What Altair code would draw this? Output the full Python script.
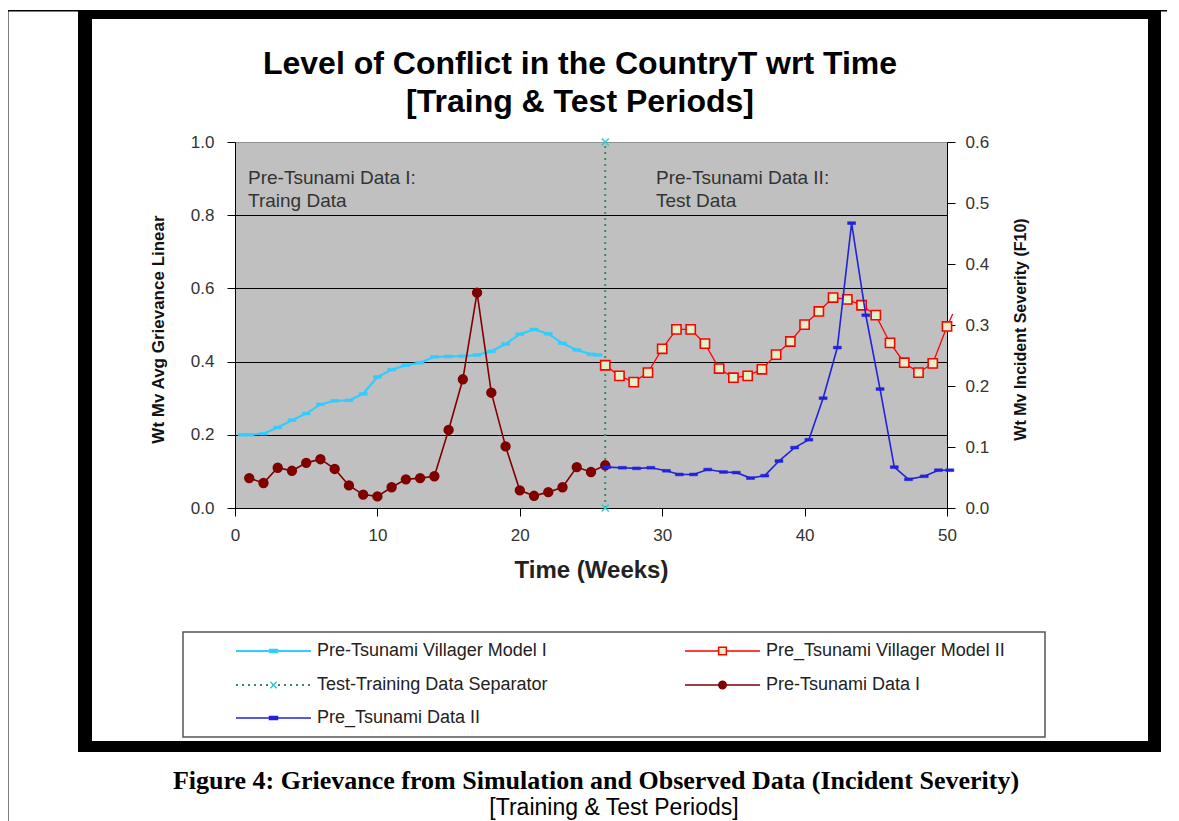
import altair as alt
import pandas as pd

# ---------------- data ----------------
model1_weeks = [0.5, 1, 2, 3, 4, 5, 6, 7, 8, 9, 10, 11, 12, 13, 14, 15, 16, 17,
                18, 19, 20, 21, 22, 23, 24, 25, 25.5]
model1_vals = [0.200, 0.200, 0.203, 0.220, 0.240, 0.258, 0.283, 0.293, 0.294,
               0.312, 0.358, 0.378, 0.390, 0.397, 0.413, 0.414, 0.415, 0.418,
               0.428, 0.448, 0.475, 0.488, 0.476, 0.450, 0.432, 0.420, 0.418]

model2_weeks = [26, 27, 28, 29, 30, 31, 32, 33, 34, 35, 36, 37, 38, 39, 40,
                41, 42, 43, 44, 45, 46, 47, 48, 49, 50, 50.4]
model2_vals = [0.390, 0.361, 0.344, 0.370, 0.435, 0.488, 0.488, 0.449, 0.381,
               0.356, 0.361, 0.379, 0.419, 0.455, 0.501, 0.537, 0.575, 0.570,
               0.554, 0.527, 0.451, 0.397, 0.370, 0.395, 0.496, 0.530]

data1_weeks = list(range(1, 27))
data1_vals = [0.049, 0.041, 0.066, 0.061, 0.074, 0.080, 0.064, 0.037, 0.022,
              0.019, 0.034, 0.047, 0.049, 0.052, 0.128, 0.211, 0.353, 0.189,
              0.101, 0.029, 0.020, 0.026, 0.034, 0.067, 0.059, 0.070]

data2_weeks = [26.1, 27.2, 28.2, 29.2, 30.3, 31.2, 32.2, 33.2, 34.3, 35.2, 36.2,
               37.2, 38.2, 39.3, 40.3, 41.3, 42.3, 43.3, 44.3, 45.3, 46.3, 47.3,
               48.4, 49.4, 50.2]
data2_vals = [0.067, 0.066, 0.065, 0.066, 0.061, 0.055, 0.055, 0.063, 0.059,
              0.058, 0.049, 0.053, 0.077, 0.099, 0.112, 0.180, 0.263, 0.467,
              0.316, 0.195, 0.067, 0.047, 0.052, 0.062, 0.062]

sep_weeks = [26, 26]
sep_vals = [0.0, 1.0]

x_ticks = [0, 10, 20, 30, 40, 50]
left_ticks = [0.0, 0.2, 0.4, 0.6, 0.8, 1.0]
right_ticks = [0.0, 0.1, 0.2, 0.3, 0.4, 0.5, 0.6]

series_names = ["Pre-Tsunami Villager Model I", "Pre_Tsunami Villager Model II",
                "Test-Training Data Separator", "Pre-Tsunami Data I",
                "Pre_Tsunami Data II"]

title_lines = ["Level of Conflict in the CountryT wrt Time", "[Traing & Test Periods]"]
annot_left = ["Pre-Tsunami Data I:", "Traing Data"]
annot_right = ["Pre-Tsunami Data II:", "Test Data"]
caption_main = "Figure 4: Grievance from Simulation and Observed Data (Incident Severity)"
caption_sub = "[Training & Test Periods]"
x_title = "Time (Weeks)"
yl_title = "Wt Mv Avg Grievance Linear"
yr_title = "Wt Mv Incident Severity (F10)"

# ---------------- layout (page pixels) ----------------
OX, OY = 235, 142          # plot origin on the page
PW, PH = 712, 366          # plot area size
SANS = "Liberation Sans"
SERIF = "Liberation Serif"

def px(v):
    return v - OX

def py(v):
    return v - OY

C_M1 = "#33CCFF"
C_M2 = "#FF0000"
C_M2_FILL = "#E4F1C7"
C_D1 = "#800000"
C_D2 = "#2222DD"
C_SEP = "#3A8A6A"
C_SEPX = "#33CCCC"
DASH = "M-1,-0.35H1V0.35H-1Z"
XMARK = "M-1,-1L1,1M-1,1L1,-1"

one = alt.InlineData(values=[{"k": 0}])


def df(w, v):
    return pd.DataFrame({"week": w, "val": v})


X = alt.X("week:Q",
          scale=alt.Scale(domain=[0, 50], nice=False, zero=False),
          axis=alt.Axis(values=x_ticks, format="d", title=x_title, grid=False,
                        tickSize=8, labelPadding=11, labelFlush=False,
                        domainColor="black", tickColor="black", labelFont=SANS,
                        labelFontSize=17, labelColor="#333333", titleFont=SANS,
                        titleFontSize=24, titleFontWeight="bold",
                        titleColor="#222222", titleX=PW / 2, titleY=62,
                        titleAlign="center", titleBaseline="middle"))

YL = alt.Y("val:Q",
           scale=alt.Scale(domain=[0, 1], nice=False, zero=True),
           axis=alt.Axis(orient="left", values=left_ticks, format=".1f",
                         grid=True, labelFlush=False,
                         gridColor={"condition": {"test": "datum.value > 0.99",
                                                  "value": "#909090"},
                                    "value": "#000000"},
                         gridWidth=1.2, tickSize=8, labelPadding=13,
                         domainColor="black", tickColor="black",
                         labelFont=SANS, labelFontSize=17, labelColor="#333333",
                         title=yl_title, titleFont=SANS, titleFontSize=17,
                         titleFontWeight="bold", titleColor="#111111",
                         titleAngle=270, titleX=158 - OX, titleY=PH / 2 + 4,
                         titleAlign="center", titleBaseline="middle"))

YR = alt.Y("val:Q",
           scale=alt.Scale(domain=[0, 0.6], nice=False, zero=True),
           axis=alt.Axis(orient="right", values=right_ticks, format=".1f",
                         grid=False, tickSize=8, labelPadding=10, labelFlush=False,
                         domainColor="black", tickColor="black",
                         labelFont=SANS, labelFontSize=17, labelColor="#333333",
                         title=yr_title, titleFont=SANS, titleFontSize=16,
                         titleFontWeight="bold", titleColor="#111111",
                         titleAngle=270, titleX=1020 - (OX + PW), titleY=PH / 2 + 4,
                         titleAlign="center", titleBaseline="middle"))

# ---------------- decorations ----------------
deco = []


def band(x1, x2, y1, y2, color="black"):
    deco.append(alt.Chart(one).mark_rect(color=color).encode(
        x=alt.value(px(x1)), x2=alt.value(px(x2)),
        y=alt.value(py(y1)), y2=alt.value(py(y2))))


# outer thin box lines
band(7, 8.5, 10, 830)
band(1169.5, 1171, 10, 830)
band(7, 1171, 10, 11.5)
# thick black frame
band(78, 1161, 10, 19)
band(78, 1161, 741, 752)
band(78, 92, 10, 752)
band(1148, 1161, 10, 752)


def text(t, x, y, size, weight="normal", font=SANS, align="left", color="#222222"):
    deco.append(alt.Chart(one).mark_text(
        text=t, font=font, fontSize=size, fontWeight=weight, align=align,
        baseline="middle", color=color).encode(
        x=alt.value(px(x)), y=alt.value(py(y))))


text(title_lines[0], 580, 64, 32, "bold", align="center", color="#000000")
text(title_lines[1], 580, 102, 32, "bold", align="center", color="#000000")
text(annot_left[0], 248, 178, 19, color="#333333")
text(annot_left[1], 248, 201, 19, color="#333333")
text(annot_right[0], 656, 178, 19, color="#333333")
text(annot_right[1], 656, 201, 19, color="#333333")
text(caption_main, 596, 781, 26, "bold", font=SERIF, align="center", color="#000000")
text(caption_sub, 614, 808, 23, align="center", color="#000000")

# legend box
deco.append(alt.Chart(one).mark_rect(fill="white", stroke="#555555", strokeWidth=1.5).encode(
    x=alt.value(px(183)), x2=alt.value(px(1045)),
    y=alt.value(py(632)), y2=alt.value(py(737))))

legend_style = [
    # color, dash, shape, fill, stroke, size, line width
    (C_M1, [1, 0], DASH, C_M1, C_M1, 64, 2),
    (C_M2, [1, 0], "square", C_M2_FILL, C_M2, 60, 1.3),
    (C_SEP, [2, 4], XMARK, None, C_SEPX, 40, 2),
    (C_D1, [1, 0], "circle", C_D1, C_D1, 55, 1.5),
    (C_D2, [1, 0], DASH, C_D2, C_D2, 64, 1.5),
]
legend_cell = [(0, 0), (1, 0), (0, 1), (1, 1), (0, 2)]
col_x = [236, 685]
row_y = [651, 685, 718]
SYM = 75
for name, (col, row), (c, dash, shp, fil, strk, sz, lw) in zip(series_names, legend_cell, legend_style):
    x0 = col_x[col]
    yy = row_y[row]
    deco.append(alt.Chart(one).mark_rule(color=c, strokeWidth=lw, strokeDash=dash).encode(
        x=alt.value(px(x0)), x2=alt.value(px(x0 + SYM)), y=alt.value(py(yy))))
    pt = dict(shape=shp, size=sz, stroke=strk, strokeWidth=1.5, opacity=1)
    if fil is None:
        pt["filled"] = False
    else:
        pt["fill"] = fil
        pt["filled"] = True
    deco.append(alt.Chart(one).mark_point(**pt).encode(
        x=alt.value(px(x0 + SYM / 2)), y=alt.value(py(yy))))
    text(name, x0 + SYM + 6, yy, 18, color="#222222")

# ---------------- series on the left axis ----------------
m1 = df(model1_weeks, model1_vals)
m2 = df(model2_weeks, model2_vals)
sep = df(sep_weeks, sep_vals)

m1_line = alt.Chart(m1).mark_line(color=C_M1, strokeWidth=2.2).encode(x=X, y=YL)
m1_pts = alt.Chart(m1).mark_point(shape=DASH, size=64, filled=True, fill=C_M1,
                                  stroke=C_M1, strokeWidth=0.5, opacity=1).encode(x=X, y=YL)
sep_line = alt.Chart(sep).mark_line(color=C_SEP, strokeWidth=2, strokeDash=[2, 4]).encode(x=X, y=YL)
sep_pts = alt.Chart(sep).mark_point(shape=XMARK, size=50, filled=False, stroke=C_SEPX,
                                    strokeWidth=1.5, opacity=1).encode(x=X, y=YL)
m2_line = alt.Chart(m2).mark_line(color=C_M2, strokeWidth=1.3).encode(x=X, y=YL)
m2_pts = alt.Chart(m2).transform_filter("datum.week <= 50").mark_point(
    shape="square", size=85, filled=True, fill=C_M2_FILL, stroke=C_M2,
    strokeWidth=1.6, opacity=1).encode(x=X, y=YL)

left = alt.layer(*deco, m1_line, m1_pts, sep_line, sep_pts, m2_line, m2_pts)

# ---------------- series on the right axis ----------------
d1 = df(data1_weeks, data1_vals)
d2 = df(data2_weeks, data2_vals)
d1_line = alt.Chart(d1).mark_line(color=C_D1, strokeWidth=1.6).encode(x=X, y=YR)
d1_pts = alt.Chart(d1).mark_point(shape="circle", size=70, filled=True, fill=C_D1,
                                  stroke=C_D1, opacity=1).encode(x=X, y=YR)
d2_line = alt.Chart(d2).mark_line(color=C_D2, strokeWidth=1.6).encode(x=X, y=YR)
d2_pts = alt.Chart(d2).mark_point(shape=DASH, size=64, filled=True, fill=C_D2,
                                  stroke=C_D2, strokeWidth=0.5, opacity=1).encode(x=X, y=YR)

right = alt.layer(d1_line, d1_pts, d2_line, d2_pts)

chart = alt.layer(left, right).resolve_scale(y="independent").properties(
    width=PW, height=PH, autosize=alt.AutoSizeParams(type="none"),
    padding={"left": OX - 8, "top": OY - 8, "right": 1179 - 8 - OX - PW - 4,
             "bottom": 813 - (OY - 8) - PH},
    background="white",
).configure_view(fill="#C0C0C0", stroke="#909090", strokeWidth=1)

chart.save("out.html", embed_options={"renderer": "svg", "actions": False})
